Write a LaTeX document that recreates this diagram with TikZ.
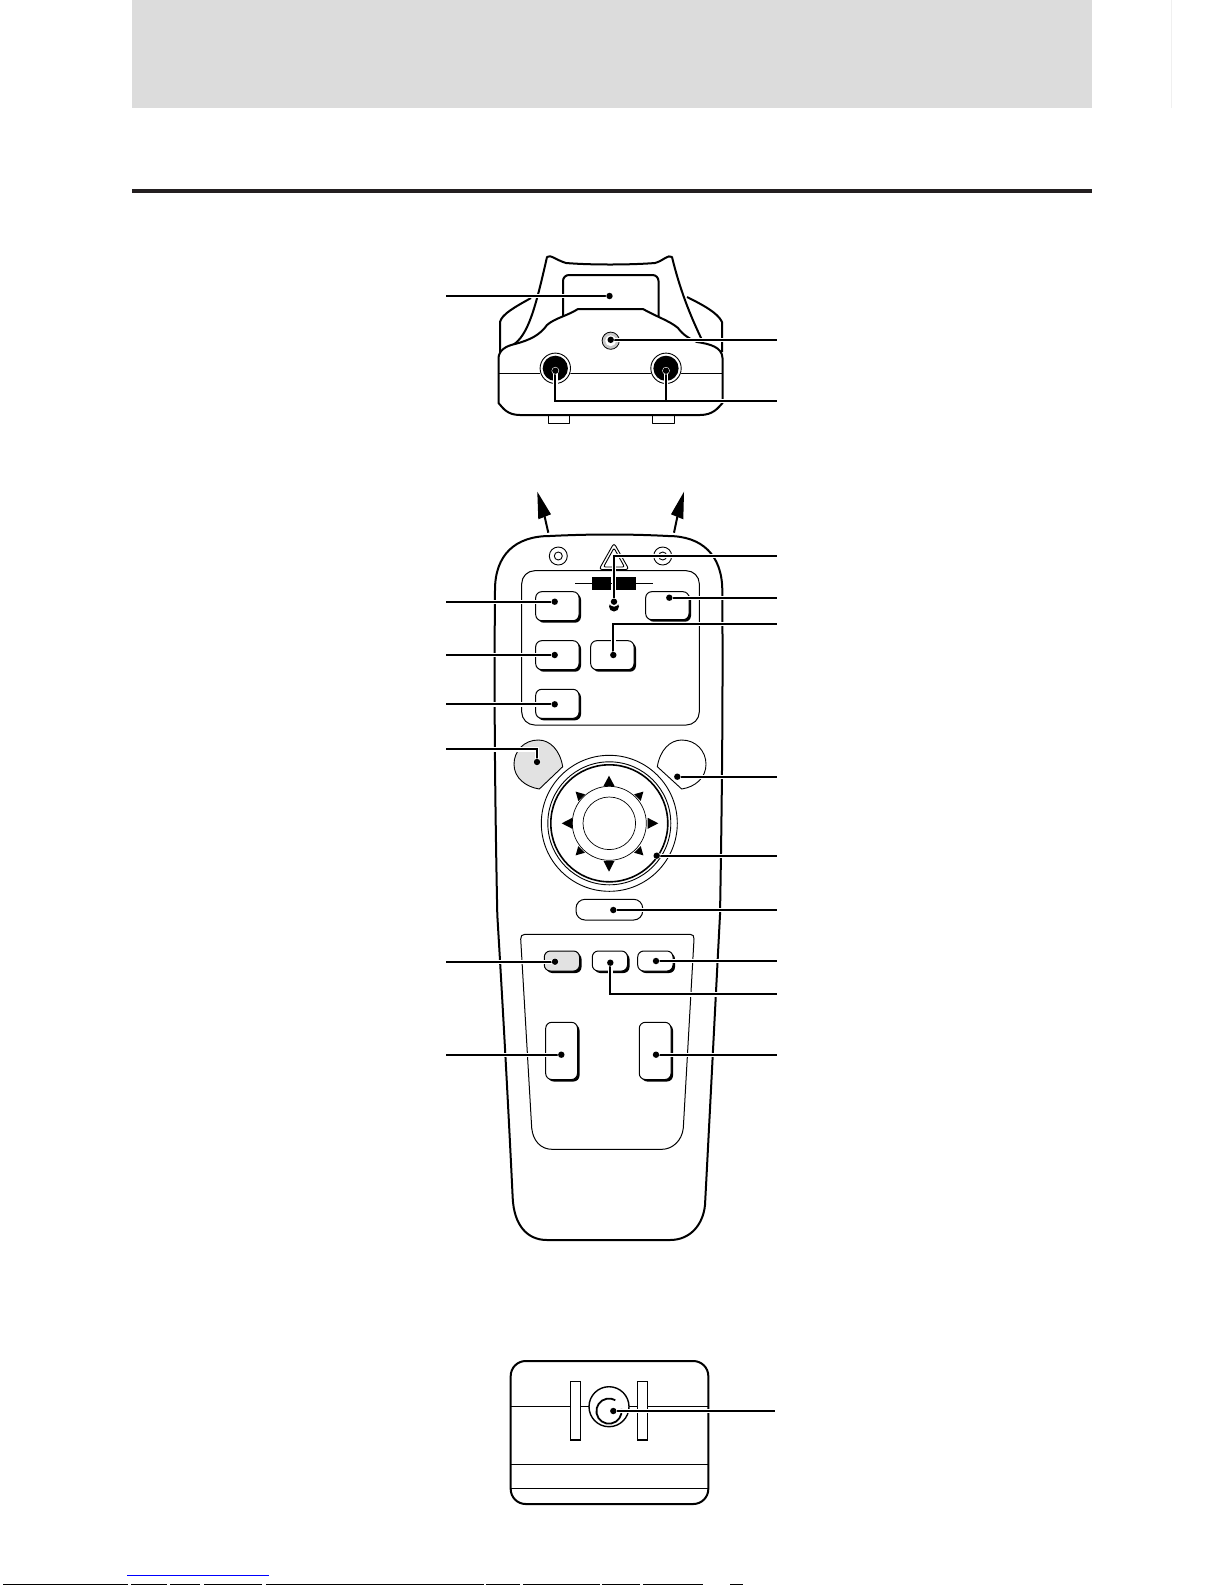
\documentclass[tikz,border=0pt]{standalone}
\definecolor{gband}{HTML}{DCDCDC}
\definecolor{gbtn}{HTML}{E2E2E2}
\definecolor{gmic}{HTML}{C8C8C8}
\definecolor{rulec}{HTML}{231F20}
\tikzset{
  lead/.style={line width=2pt,black,line cap=butt,line join=miter,preaction={draw=white,line width=4.4pt}},
  outline/.style={line width=2pt,black,line join=round},
  thin line/.style={line width=1pt,black,line join=round},
  btn/.style={thin line,fill=white,rounded corners=6pt},
  shadow/.style={black,fill=black,rounded corners=6pt},
  tri/.style={fill=black,draw=none},
  ldot/.style={circle,fill=black,inner sep=0pt,minimum size=6.5pt},
}
\newcommand{\rcbtn}[5]{% x1 y1 x2 y2 fill
  \fill[shadow] (#1+2,#2+2) rectangle (#3+2,#4+2);
  \draw[btn,fill=#5] (#1,#2) rectangle (#3,#4);
}
\begin{document}
\begin{tikzpicture}[x=1pt,y=-1pt]
\useasboundingbox (0,0) rectangle (1225,1585);
\fill[white] (0,0) rectangle (1225,1585);
% page furniture
\fill[gband] (132,0) rectangle (1092,107.7);
\fill[rulec] (132,189) rectangle (1092,193);
\draw[line width=.6pt,black!6] (1171.7,0) -- (1171.7,108);
\draw[line width=1pt,blue] (127,1575.3) -- (268.7,1575.3);
\foreach \a/\b in {3/128,131/167,170/200,204/262,266/400,400/484,486/520,523/600,602/640,643/703,730/743}{
  \fill[black] (\a,1584) rectangle (\b,1585);
}

% ===== receiver =====
\draw[outline] (500,352) -- (500,322) .. controls (502,314) and (515,307) .. (531,298);
\draw[outline] (687,297) .. controls (703,305) and (718,313) .. (722,322) -- (722,352);
\draw[outline] (513,345) .. controls (528,335) and (535,310) .. (547,257)
  .. controls (550,254) and (556,260) .. (566,263) .. controls (590,265) and (630,265) .. (655,263)
  .. controls (663,261) and (668,254) .. (672,257) .. controls (680,290) and (690,315) .. (702,340);
\draw[outline,rounded corners=6pt] (563,316) -- (563,275) -- (658.5,275) -- (658.5,316);
\draw[outline,fill=white] (498.5,358) .. controls (499,350) and (506,346) .. (515,344)
  .. controls (530,340) and (540,335) .. (547,325) .. controls (555,318) and (567,316) .. (578,309)
  -- (643,309) .. controls (655,316) and (670,321) .. (678,328) .. controls (683,335) and (690,339) .. (697,342)
  .. controls (710,344) and (722,347) .. (722.5,358) -- (722.5,403)
  .. controls (718,408) and (713,415) .. (700,415) -- (520,415)
  .. controls (507,415) and (503,408) .. (498.5,403) -- cycle;
\draw[line width=1.2pt] (498.5,373.3) -- (722.5,373.3);
\draw[thin line] (548.5,416) -- (548.5,423.5) -- (569.5,423.5) -- (569.5,416);
\draw[thin line] (652.5,416) -- (652.5,423.5) -- (674.5,423.5) -- (674.5,416);
\foreach \cx in {555.3,666}{
  \fill[white] (\cx,368.3) circle (16);
  \draw[line width=.9pt] (\cx,368.3) circle (15.2);
  \fill[black] (\cx,368.3) circle (12.6);
}
\draw[line width=.8pt,fill=gmic] (610.7,340.7) circle (8.6);
\fill[white] (610.7,340.7) circle (5.5);

% ===== remote body =====
\draw[outline] (495,590) .. controls (495,555) and (515,536) .. (550,536)
  .. controls (590,534) and (630,534) .. (668,536)
  .. controls (702,536) and (722,555) .. (722.3,590)
  .. controls (723,700) and (722,800) .. (720,915)
  .. controls (715,1010) and (710,1110) .. (705,1205)
  .. controls (703,1225) and (690,1240) .. (670,1240) -- (547,1240)
  .. controls (527,1240) and (514,1225) .. (512.7,1198)
  .. controls (508,1100) and (503,1010) .. (497.3,915)
  .. controls (495,800) and (494,700) .. (495,590) -- cycle;
% arrows
\coordinate (al0) at (548.3,532.7); \coordinate (al1) at (537.3,491.7);
\coordinate (ar0) at (674,532.7); \coordinate (ar1) at (684,491.7);
\draw[line width=2pt] (al0) -- (544.5,516);
\fill[black] (al1) -- (551,514.3) -- (538.3,519.3) -- cycle;
\draw[line width=2pt] (ar0) -- (677.5,516);
\fill[black] (ar1) -- (671,514.3) -- (683.3,519.3) -- cycle;
% top features
\draw[line width=.9pt] (558.3,556) circle (9);
\draw[line width=.9pt] (558.3,556) circle (4);
\draw[line width=.9pt] (662.7,556) circle (9);
\draw[line width=.9pt] (662.7,556) circle (4);
\draw[line width=.9pt,rounded corners=3pt] (614,543) -- (629,569.5) -- (599,569.5) -- cycle;
\draw[line width=.9pt,rounded corners=2pt] (614,548) -- (624.5,567) -- (603.5,567) -- cycle;
% upper panel
\draw[thin line,rounded corners=13pt] (521.7,725) -- (521.7,570.7) -- (699.3,570.7) -- (699.3,725) -- cycle;
\draw[line width=1pt] (575,583.7) -- (652.7,583.7);
\fill[black] (592.3,577.3) rectangle (610.7,590);
\fill[black] (616,577.3) rectangle (636,590);
\fill[black] (614,606.5) circle (5);
\fill[white] (614,601.7) circle (5);
% upper buttons
\rcbtn{535.7}{591.7}{579}{620.7}{white}
\rcbtn{535.7}{640.7}{579}{669.7}{white}
\rcbtn{535.7}{689.3}{579}{718.3}{white}
\rcbtn{590.7}{640.7}{634}{669.7}{white}
\rcbtn{645.7}{591.7}{689}{619.7}{white}
% round buttons
\draw[line width=.9pt,fill=gbtn] (539.3,789) -- (562.7,766.7) .. controls (560,750) and (550,740) .. (538.3,740)
  .. controls (524,740) and (514,751) .. (514,764.3) .. controls (514,778) and (526,787) .. (539.3,789) -- cycle;
\draw[line width=.9pt,fill=white] (681.7,789) -- (657.3,766.7) .. controls (660,750) and (670,740) .. (681.7,740)
  .. controls (696,740) and (706,751) .. (706,764.3) .. controls (706,778) and (695,787) .. (681.7,789) -- cycle;
% pad
\coordinate (pad) at (609.3,823.3);
\draw[line width=.9pt] (pad) circle (68);
\draw[line width=.9pt] (pad) circle (61.5);
\draw[line width=1.6pt] (pad) circle (58.5);
\draw[line width=.7pt] (pad) circle (37);
\draw[line width=.7pt] (pad) circle (26.3);
\fill[tri] (609,775.7) -- (614.5,786) -- (603.5,786) -- cycle;
\fill[tri] (609,871.7) -- (614.5,861) -- (603.5,861) -- cycle;
\fill[tri] (561.7,823.3) -- (572.3,817.8) -- (572.3,828.8) -- cycle;
\fill[tri] (658.3,823.3) -- (647.7,817.8) -- (647.7,828.8) -- cycle;
\foreach \tx/\ty/\ang in {579.5/795.5/135,639.5/795.5/45,579.5/851.5/225,639.5/851.5/315}{
  \fill[tri,shift={(\tx,\ty)},rotate=\ang] (5.5,0) -- (-3,4.7) -- (-3,-4.7) -- cycle;
}
% pill
\draw[thin line,rounded corners=9pt] (576,899.3) rectangle (642.7,920);
% lower panel
\draw[thin line] (525,934.3) -- (690,934.3) .. controls (693,934.3) and (694.3,936) .. (694,939)
  -- (683.3,1128) .. controls (682,1141) and (672,1149.3) .. (662,1149.3) -- (552,1149.3)
  .. controls (541,1149.3) and (533,1141) .. (531.7,1128) -- (520.7,939)
  .. controls (520.5,936) and (522,934.3) .. (525,934.3) -- cycle;
\rcbtn{544.3}{951}{579.5}{971}{gbtn}
\rcbtn{592.3}{951}{627.5}{971}{white}
\rcbtn{637.7}{951}{673}{971}{white}
\rcbtn{545.7}{1022.3}{577.5}{1079.5}{white}
\rcbtn{639.3}{1022.3}{671}{1079.5}{white}

% ===== bottom view =====
\draw[outline,rounded corners=15pt] (510.7,1361) rectangle (708.3,1504);
\draw[line width=1.4pt] (511,1406.7) -- (708,1406.7);
\draw[line width=1pt] (511,1464.3) -- (708,1464.3);
\draw[line width=1pt] (511,1488.3) -- (708,1488.3);
\draw[line width=1.5pt,fill=white] (570.7,1381.7) rectangle (580.3,1440);
\draw[line width=1.5pt,fill=white] (637.7,1381.7) rectangle (647.3,1440);
\draw[line width=1.4pt,fill=white] (609,1406.7) circle (20);
\draw[line width=1.8pt] (621.4,1408.9) arc (-10:300:12.6);

% ===== leader dots =====
\node[ldot] (d1) at (609.5,296) {};
\node[ldot] (d2) at (610.7,339.8) {};
\node[ldot] (d3) at (555.3,370.7) {};
\node[ldot] (d4) at (666,370.7) {};
\node[ldot] (d5) at (614,601.7) {};
\node[ldot] (d6) at (554.7,601.7) {};
\node[ldot] (d7) at (554.7,655) {};
\node[ldot] (d8) at (554.7,704.3) {};
\node[ldot] (d9) at (613.3,655) {};
\node[ldot] (d10) at (669.3,597.7) {};
\node[ldot] (d11) at (537,762) {};
\node[ldot] (d12) at (677.3,776.7) {};
\node[ldot] (d13) at (656.7,855.7) {};
\node[ldot] (d14) at (613.3,910) {};
\node[ldot] (d15) at (555,961.7) {};
\node[ldot] (d16) at (610.3,962.7) {};
\node[ldot] (d17) at (656,961) {};
\node[ldot] (d18) at (561.3,1054.7) {};
\node[ldot] (d19) at (656,1054.7) {};
\node[ldot] (d20) at (613.3,1411) {};
% free ends
\coordinate (l1) at (446,296);
\coordinate (r2) at (776.7,339.8);
\coordinate (r3) at (776.7,401);
\coordinate (r5) at (776.7,556);
\coordinate (l6) at (446,601.7);
\coordinate (l7) at (446,655);
\coordinate (l8) at (446,704.3);
\coordinate (r9) at (776.7,624);
\coordinate (r10) at (776.7,597.7);
\coordinate (l11) at (446,749.3);
\coordinate (r12) at (776.7,776.7);
\coordinate (r13) at (776.7,855.7);
\coordinate (r14) at (776.7,910);
\coordinate (l15) at (446,961.7);
\coordinate (r16) at (776.7,994.3);
\coordinate (r17) at (776.7,961);
\coordinate (l18) at (446,1054.7);
\coordinate (r19) at (776.7,1054.7);
\coordinate (r20) at (775,1411);
% leaders
\draw[lead] (l1) -- (d1.center);
\draw[lead] (d2.center) -- (r2);
\draw[lead] (d3.center) |- (r3);
\draw[lead] (d4.center) -- (d4.center |- r3);
\draw[lead] (d5.center) |- (r5);
\draw[lead] (l6) -- (d6.center);
\draw[lead] (l7) -- (d7.center);
\draw[lead] (l8) -- (d8.center);
\draw[lead] (d9.center) |- (r9);
\draw[lead] (d10.center) -- (r10);
\draw[lead] (l11) -- (d11.center |- l11) -- (d11.center);
\draw[lead] (d12.center) -- (r12);
\draw[lead] (d13.center) -- (r13);
\draw[lead] (d14.center) -- (r14);
\draw[lead] (l15) -- (d15.center);
\draw[lead] (d16.center) |- (r16);
\draw[lead] (d17.center) -- (r17);
\draw[lead] (l18) -- (d18.center);
\draw[lead] (d19.center) -- (r19);
\draw[lead] (d20.center) -- (r20);
% leader joint over the halo of the second jack's stem
\draw[line width=2pt] (d3.center |- r3) -- (r3);
% redraw dots on top
\foreach \d in {d1,d2,d3,d4,d5,d6,d7,d8,d9,d10,d11,d12,d13,d14,d15,d16,d17,d18,d19,d20}{
  \fill[white] (\d) circle (3.8);
  \fill[black] (\d) circle (3.2);
}
\end{tikzpicture}
\end{document}
